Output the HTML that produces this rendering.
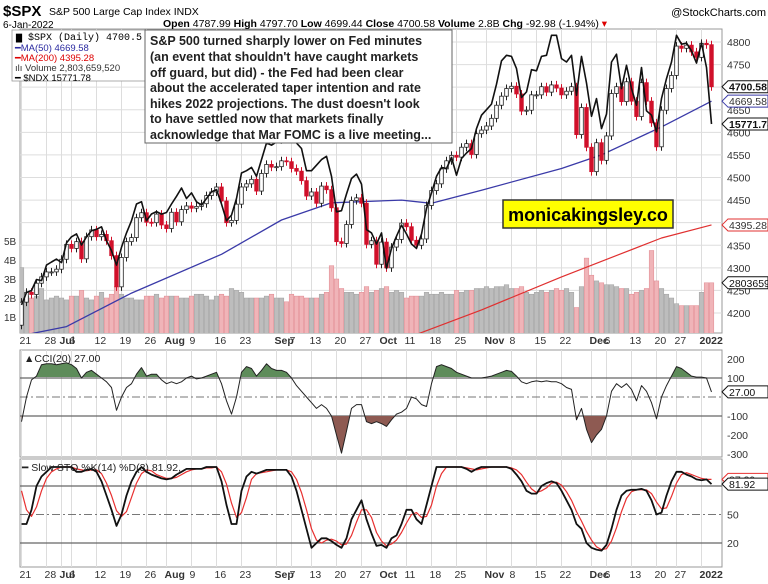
<!DOCTYPE html>
<html><head><meta charset="utf-8">
<style>
html,body{margin:0;padding:0;background:#fff;}
svg{display:block;font-family:"Liberation Sans",Arial,sans-serif;}
</style></head>
<body>
<svg id="chart" width="768" height="584" viewBox="0 0 768 584" xmlns="http://www.w3.org/2000/svg">
  <defs>
    <clipPath id="clipMain"><rect x="20" y="29" width="702" height="304"/></clipPath>
    <clipPath id="clipCciUp"><rect x="20" y="350" width="702" height="27"/></clipPath>
    <clipPath id="clipCciDn"><rect x="20" y="416" width="702" height="41"/></clipPath>
  </defs>
  <g id="grid"></g>
  <g id="marks"></g>
  <g id="labels"></g>

  <text x="3" y="16" font-size="15" font-weight="bold">$SPX</text>
  <text x="49" y="15" font-size="10.5">S&amp;P 500 Large Cap Index  INDX</text>
  <text x="766" y="16" font-size="11" text-anchor="end">@StockCharts.com</text>
  <text x="3" y="28" font-size="10">6-Jan-2022</text>
  <text x="163" y="27" font-size="10.5"><tspan font-weight="bold">Open</tspan> 4787.99 <tspan font-weight="bold">High</tspan> 4797.70 <tspan font-weight="bold">Low</tspan> 4699.44 <tspan font-weight="bold">Close</tspan> 4700.58 <tspan font-weight="bold">Volume</tspan> 2.8B <tspan font-weight="bold">Chg</tspan> -92.98 (-1.94%) <tspan fill="#d00">▾</tspan></text>

  <g>
    <rect x="12" y="30" width="136" height="51" fill="#fff" stroke="#999" stroke-width="0.8"/>
    <text x="16" y="40" font-size="10" font-family="Liberation Mono, monospace">▆ $SPX (Daily) 4700.5</text>
    <text x="15" y="51" font-size="9.5" fill="#2a2aa0">━MA(50) 4669.58</text>
    <text x="15" y="61" font-size="9.5" fill="#d00">━MA(200) 4395.28</text>
    <text x="15" y="71" font-size="9.5" fill="#333">ılı Volume 2,803,659,520</text>
    <text x="15" y="81" font-size="9.5">━ $NDX 15771.78</text>
  </g>

  <g>
    <rect x="145" y="30" width="307" height="113" fill="#fff" stroke="#666" stroke-width="1"/>
    <text font-size="12.5" font-weight="bold" fill="#222">
      <tspan x="150" y="45">S&amp;P 500 turned sharply lower on Fed minutes</tspan>
      <tspan x="150" y="61">(an event that shouldn't have caught markets</tspan>
      <tspan x="150" y="77">off guard, but did) - the Fed had been clear</tspan>
      <tspan x="150" y="92">about the accelerated taper intention and rate</tspan>
      <tspan x="150" y="108">hikes 2022 projections. The dust doesn't look</tspan>
      <tspan x="150" y="123">to have settled now that markets finally</tspan>
      <tspan x="150" y="139">acknowledge that Mar FOMC is a live meeting...</tspan>
    </text>
  </g>

  <g>
    <rect x="503" y="200" width="170" height="28" fill="#ffff00" stroke="#333" stroke-width="1.5"/>
    <text x="588" y="221" font-size="18" font-weight="bold" text-anchor="middle">monicakingsley.co</text>
  </g>

<script>
const closes = [4224,4246,4241,4266,4280,4291,4291,4297,
4319,4352,4343,4358,4320,4369,4384,4369,4374,4360,4327,4258,4323,4358,4367,4411,4422,4401,4400,4419,4395,
4387,4423,4402,4429,4437,4432,4436,4442,4460,4468,4479,4448,4400,4405,4441,4479,4486,4496,4470,4509,4529,4523,
4524,4537,4535,4520,4514,4493,4459,4468,4443,4481,4473,4433,4358,4354,4396,4449,4455,4443,4352,4360,4308,
4357,4300,4346,4363,4399,4391,4361,4350,4364,4438,4471,4486,4519,4537,4549,4545,4567,4575,4551,4597,4605,
4614,4631,4660,4680,4697,4702,4685,4647,4649,4683,4683,4701,4689,4705,4698,4683,4691,4701,4595,4655,4567,
4513,4577,4538,4592,4686,4701,4668,4712,4669,4635,4710,4669,4621,4568,4649,4697,4726,4791,4786,4793,4778,4766,
4797,4794,4701];
const firstOpen = 4173;
const ndx = [14141,14253,14271,14370,14360,14500,14528,14554,
14522,14700,14755,14781,14680,14755,14810,14822,14845,14720,14630,14500,14660,14790,14900,15050,15071,14900,14960,14982,14959,
14974,15050,15120,15194,15100,15150,15070,15040,15100,15160,15180,15050,14900,14950,15100,15330,15350,15380,15300,15450,15600,15580,
15610,15600,15650,15670,15600,15550,15350,15350,15400,15450,15480,15300,14980,14990,15140,15280,15320,15230,14820,14790,14690,
14790,14470,14650,14760,14860,14780,14690,14650,14780,15010,15150,15300,15380,15370,15470,15310,15460,15510,15550,15730,15850,
15900,15950,16130,16340,16390,16380,16270,16010,16060,16260,16250,16380,16390,16570,16570,16360,16330,16390,16030,16380,16140,
15840,16000,15730,15860,16330,16400,16090,16300,16090,15940,16280,15890,15850,15700,16000,16180,16330,16570,16490,16500,16430,16320,
16500,16280,15771];
const volume = [3.6,2.1,2.0,2.1,2.5,1.9,2.0,2.1,
2.0,1.9,2.1,2.1,2.4,2.0,1.9,2.1,2.3,2.0,2.2,2.6,2.2,2.0,2.0,1.9,1.9,2.1,2.1,2.2,2.0,
2.1,2.1,2.1,2.0,2.0,2.1,2.2,2.2,2.1,1.9,2.1,2.2,2.1,2.5,2.4,2.3,2.0,2.0,2.0,2.0,2.1,2.2,
2.0,2.0,1.8,2.2,2.1,2.1,2.0,2.0,2.0,2.2,2.3,3.7,3.0,2.5,2.3,2.3,2.2,2.3,2.6,2.3,2.4,
2.5,2.6,2.3,2.4,2.3,2.0,2.1,2.1,2.1,2.3,2.2,2.2,2.3,2.2,2.2,2.4,2.3,2.4,2.4,2.5,2.5,
2.6,2.5,2.6,2.6,2.7,2.5,2.5,2.6,2.3,2.2,2.3,2.4,2.3,2.4,2.5,2.4,2.5,2.3,1.5,2.6,4.1,
3.2,2.9,2.8,2.7,2.7,2.6,2.5,2.5,2.2,2.3,2.4,2.5,4.5,2.9,2.5,2.2,2.0,1.7,1.6,1.6,1.6,1.6,
2.3,2.8,2.8];
const ma50Idx = [0,9,22,40,52,62,76,82,92,108,116,128,138];
const ma50Val = [4150,4170,4244,4330,4406,4444,4450,4443,4472,4520,4550,4612,4669];
const ma200Idx = [76,92,108,128,138];
const ma200Val = [4140,4207,4280,4366,4395];
const cci = [-130,0,90,110,170,175,175,170,
175,180,170,150,100,130,140,120,100,80,50,-70,0,50,70,120,155,110,120,120,90,
70,80,70,80,100,110,95,100,110,120,130,70,-20,-90,0,130,160,150,110,140,175,150,
140,140,130,100,60,30,0,-30,-60,-40,-60,-100,-200,-295,-180,-60,-40,-40,-130,-140,-130,
-140,-155,-120,-90,-80,-60,0,-10,-40,-50,70,160,170,160,150,130,120,110,100,100,100,
105,110,120,130,140,135,110,80,70,80,85,80,85,80,80,70,50,40,-120,-60,-170,
-240,-200,-170,-100,30,70,50,70,40,-20,60,30,-30,-115,0,60,110,160,150,130,110,105,
105,100,27];
const stoK = [40,40,55,80,90,95,100,100,
100,100,100,95,95,97,98,95,85,70,55,38,50,70,85,95,100,95,92,90,88,
87,88,92,95,98,98,98,98,100,100,100,85,60,40,40,75,90,95,93,95,97,97,
97,97,97,90,75,55,35,15,20,25,25,22,18,15,25,45,55,65,45,30,17,
18,15,25,28,40,55,55,45,40,60,80,100,100,100,100,100,100,98,95,98,100,
100,100,100,100,100,98,92,85,75,72,72,80,83,85,83,75,65,55,40,35,20,
15,13,12,18,35,55,70,75,76,76,77,75,65,50,52,70,85,95,95,92,90,87,
86,87,82];
const stoD = [75,55,48,58,75,88,95,98,
100,100,100,98,97,96,97,97,93,83,70,54,48,53,68,83,93,97,96,92,90,
88,88,89,92,95,97,98,98,99,99,100,95,82,62,47,52,68,87,93,94,95,96,
97,97,97,95,87,73,55,35,23,20,23,24,22,18,19,28,42,55,55,47,31,
22,17,19,23,31,41,50,52,47,48,60,80,93,100,100,100,100,99,98,97,98,
99,100,100,100,100,99,97,92,84,77,73,75,78,83,84,81,74,65,53,43,32,
23,16,13,14,22,36,53,67,74,76,76,76,72,63,56,57,69,83,92,94,92,90,
88,87,87];
const dateTickIdx = [0,5,8,10,15,20,25,29,34,39,44,51,54,58,63,68,72,77,82,87,93,98,103,108,114,117,122,127,131,136];
const dateTickText = ["21","28","Jul","6","12","19","26","Aug","9","16","23","Sep","7","13","20","27","Oct","11","18","25","Nov","8","15","22","Dec","6","13","20","27","2022"];
const dateTickBold = [0,0,1,0,0,0,0,1,0,0,0,1,0,0,0,0,1,0,0,0,1,0,0,0,1,0,0,0,0,1];
const priceTicks = [4200,4250,4300,4350,4400,4450,4500,4550,4600,4650,4700,4750,4800];
const volTicks = [1,2,3,4,5];
const cciTicks = [200,100,-100,-200,-300];
const stoTicks = [50,20];

const NS = "http://www.w3.org/2000/svg";
const X0 = 20, XR = 722;
const xs = i => 21.5 + i * 5.0;
const yP = p => 42 + (4800 - p) * 0.4517;
const yN = v => 124 - (v - 15771) * 0.111;
const yV = v => 336 - v * 19;
const yC = c => 397 - c * 0.19;
const yS = s => 562 - s * 0.95;
const grid = document.getElementById('grid');
const marks = document.getElementById('marks');
const labels = document.getElementById('labels');
function mk(tag, attrs, parent) {
  const e = document.createElementNS(NS, tag);
  for (const k in attrs) e.setAttribute(k, attrs[k]);
  parent.appendChild(e);
  return e;
}
const panels = [[29,333],[350,457],[459,567]];
panels.forEach((p, pi) => {
  const r = mk('rect', {x:X0, y:p[0], width:XR-X0, height:p[1]-p[0], fill:'none', stroke:'#999', 'stroke-width':1}, grid);
  
  
  dateTickIdx.forEach(i => {
    const l = mk('line', {x1:xs(i), x2:xs(i), y1:p[0], y2:p[1], stroke:'#ddd', 'stroke-width':1}, grid);
    
    
  });
});
priceTicks.forEach(t => {
  const l = mk('line', {x1:X0, x2:XR, y1:yP(t), y2:yP(t), stroke:'#ddd'}, grid);
  
  
  const tx = mk('text', {x:727, y:yP(t)+4, 'font-size':10.5, fill:'#333'}, labels);
  tx.textContent = t;
  
  
});
volTicks.forEach(t => {
  const tx = mk('text', {x:4, y:yV(t)+4, 'font-size':10, fill:'#333'}, labels);
  tx.textContent = t + 'B';
  
  
});
const vg = mk('g', {'clip-path':'url(#clipMain)'}, marks);
volume.forEach((v, i) => {
  const prev = i === 0 ? firstOpen : closes[i-1];
  const down = closes[i] < prev;
  const b = mk('rect', {x:xs(i)-2.3, y:yV(v), width:4.6, height:336-yV(v), fill: down ? '#f0b4b8' : '#bdbdbd', stroke: down ? '#e08890' : '#a0a0a0', 'stroke-width':0.5}, vg);
  
  
});
function polyline(idx, vals, fy, color, w, name, parent) {
  const pts = vals.map((v, k) => xs(idx ? idx[k] : k).toFixed(1) + ',' + fy(v).toFixed(1)).join(' ');
  const pl = mk('polyline', {points:pts, fill:'none', stroke:color, 'stroke-width':w, 'stroke-linejoin':'round'}, parent);
  
  
  return pl;
}
polyline(ma200Idx, ma200Val, yP, '#e03030', 1.2, 'ma200-line', vg);
polyline(ma50Idx, ma50Val, yP, '#3a3aa8', 1.3, 'ma50-line', vg);
closes.forEach((c, i) => {
  const o = i === 0 ? firstOpen : closes[i-1];
  const down = c < o;
  const top = yP(Math.max(o, c)), bot = yP(Math.min(o, c));
  const w = mk('line', {x1:xs(i), x2:xs(i), y1:top-4, y2:bot+4, stroke: down ? '#d0102a' : '#222', 'stroke-width':1}, vg);
  
  
  const b = mk('rect', {x:xs(i)-1.8, y:top, width:3.6, height:Math.max(1, bot-top), fill: down ? '#d0102a' : '#fff', stroke: down ? '#d0102a' : '#222', 'stroke-width':0.8}, vg);
  
  
});
polyline(null, ndx, yN, '#111', 1.6, 'ndx-line', vg);
function tag(y, text, color, bold, name) {
  const p = mk('path', {d:`M722,${y} l6,-6 h40 v12 h-40 z`, fill:'#fff', stroke:color, 'stroke-width':1}, labels);
  
  
  const t = mk('text', {x:729, y:y+4, 'font-size':10.5, fill: color === '#111' ? '#111' : '#333', 'font-weight': bold ? 'bold' : 'normal'}, labels);
  t.textContent = text;
  
  
}
tag(yP(closes[closes.length-1]), '4700.58', '#111', true, 'last-price-tag');
tag(yP(ma50Val[ma50Val.length-1]), '4669.58', '#3a3aa8', false, 'ma50-tag');
tag(yN(ndx[ndx.length-1]), '15771.78', '#111', true, 'ndx-tag');
tag(yP(ma200Val[ma200Val.length-1]), '4395.28', '#e03030', false, 'ma200-tag');
tag(yV(volume[volume.length-1]), '2803659520', '#111', false, 'volume-tag');
[344, 578].forEach(yy => {
  dateTickIdx.forEach((i, k) => {
    const t = mk('text', {x:xs(i)-2, y:yy, 'font-size':10.5, 'font-weight': dateTickBold[k] ? 'bold' : 'normal', fill:'#333'}, labels);
    t.textContent = dateTickText[k];
    
    
  });
});
[100, -100].forEach(v => {
  const l = mk('line', {x1:X0, x2:XR, y1:yC(v), y2:yC(v), stroke:'#666', 'stroke-width':1.3}, grid);
  
  
});
const z = mk('line', {x1:X0, x2:XR, y1:yC(0), y2:yC(0), stroke:'#777', 'stroke-dasharray':'8 3 2 3'}, grid);


cciTicks.forEach(t => {
  const tx = mk('text', {x:727, y:yC(t)+4, 'font-size':10.5, fill:'#333'}, labels);
  tx.textContent = t;
  
  
});
const cciPts = cci.map((v, i) => xs(i).toFixed(1) + ',' + yC(v).toFixed(1)).join(' ');
const up = mk('polygon', {points: xs(0)+','+yC(100)+' '+cciPts+' '+xs(cci.length-1)+','+yC(100), fill:'#5e8c5a', 'clip-path':'url(#clipCciUp)'}, marks);


const dn = mk('polygon', {points: xs(0)+','+yC(-100)+' '+cciPts+' '+xs(cci.length-1)+','+yC(-100), fill:'#8e5a52', 'clip-path':'url(#clipCciDn)'}, marks);


polyline(null, cci, yC, '#222', 1, 'cci-line', marks);
tag(yC(cci[cci.length-1]), '27.00', '#111', false, 'cci-tag');
const cl = mk('text', {x:24, y:362, 'font-size':10.5, fill:'#222'}, labels);
cl.textContent = '▲CCI(20) 27.00';


[80, 20].forEach(v => {
  const l = mk('line', {x1:X0, x2:XR, y1:yS(v), y2:yS(v), stroke:'#666', 'stroke-width':1.3}, grid);
  
  
});
const m = mk('line', {x1:X0, x2:XR, y1:yS(50), y2:yS(50), stroke:'#777', 'stroke-dasharray':'8 3 2 3'}, grid);


stoTicks.forEach(t => {
  const tx = mk('text', {x:727, y:yS(t)+4, 'font-size':10.5, fill:'#333'}, labels);
  tx.textContent = t;
  
  
});
polyline(null, stoD, yS, '#e83030', 1.2, 'sto-d-line', marks);
polyline(null, stoK, yS, '#111', 1.8, 'sto-k-line', marks);
tag(yS(stoD[stoD.length-1]), '87.39', '#e83030', false, 'sto-d-tag');
tag(yS(stoK[stoK.length-1]), '81.92', '#111', false, 'sto-k-tag');
const sl = mk('text', {x:22, y:471, 'font-size':10.5, fill:'#222'}, labels);
sl.innerHTML = '━ Slow STO %K(14) %D(3) 81.92, <tspan fill="#e03030">87.39</tspan>';


</script>
</svg>
</body></html>
